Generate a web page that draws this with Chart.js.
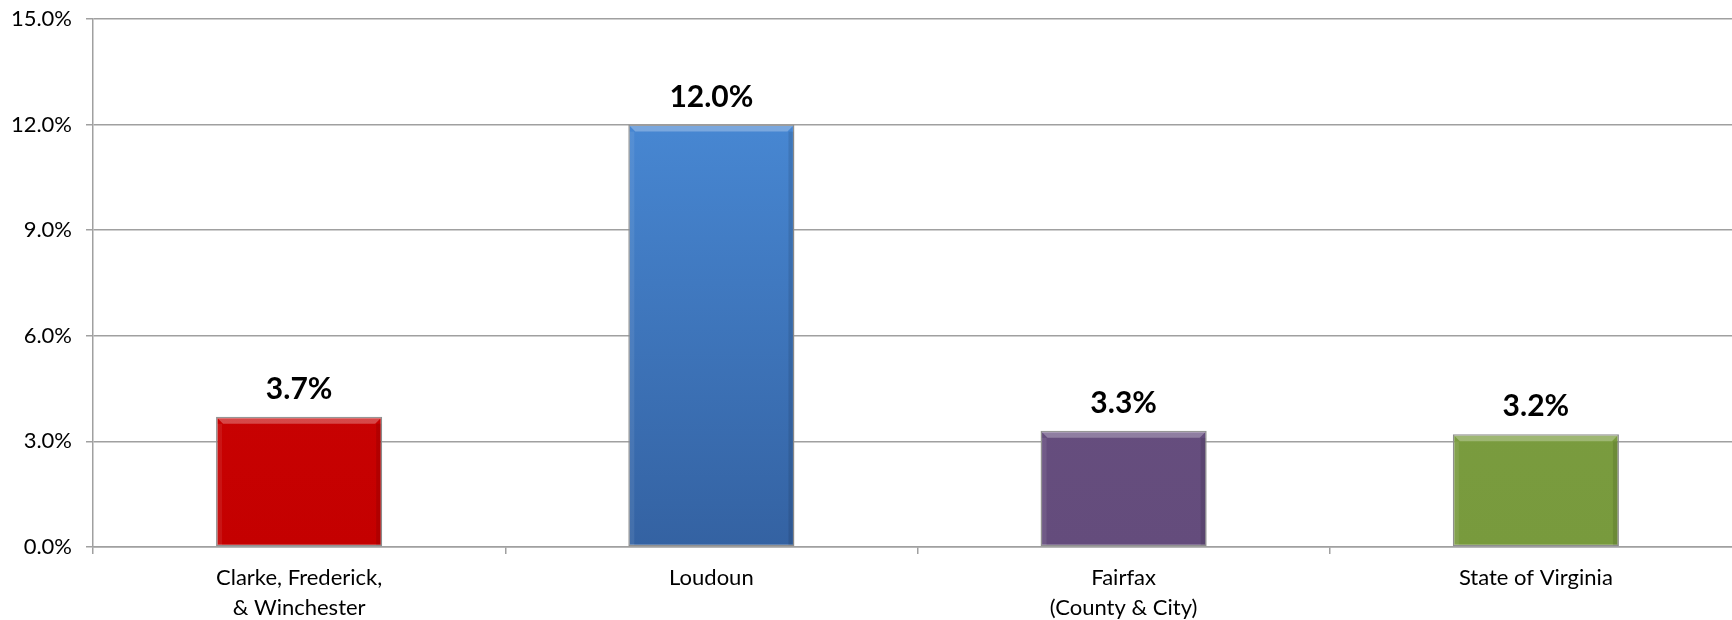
<!DOCTYPE html>
<html>
<head>
<meta charset="utf-8">
<script src="https://cdn.jsdelivr.net/npm/chart.js@4"></script>
<style>
html,body{margin:0;padding:0;background:#fff;overflow:hidden;}
#wrap{width:1742px;height:620px;position:relative;}
</style>
</head>
<body>
<div id="wrap"><canvas id="c"></canvas></div>
<script>
const categories = [["Clarke, Frederick,", "& Winchester"], "Loudoun", ["Fairfax", "(County & City)"], "State of Virginia"];
const values = [3.7, 12.0, 3.3, 3.2];
const yTicks = [0, 3, 6, 9, 12, 15];
const topColors = ["#D20606", "#4C90DE", "#6B5284", "#7FA043"];
const bottomColors = ["#C40000", "#3462A2", "#644C7C", "#789A3D"];

function barFill(ctx) {
  const chart = ctx.chart;
  const area = chart.chartArea;
  if (!area) return topColors[ctx.dataIndex];
  const el = ctx.element;
  const yTop = el && el.y != null && isFinite(el.y) ? el.y : area.top;
  const yBot = el && el.base != null && isFinite(el.base) ? el.base : area.bottom;
  const g = chart.ctx.createLinearGradient(0, yTop, 0, Math.max(yBot, yTop + 1));
  g.addColorStop(0, topColors[ctx.dataIndex]);
  g.addColorStop(1, bottomColors[ctx.dataIndex]);
  return g;
}

const bevel = {
  id: 'bevel',
  afterDatasetsDraw(chart) {
    const c = chart.ctx;
    const meta = chart.getDatasetMeta(0);
    meta.data.forEach((bar) => {
      const w = bar.width, l = bar.x - w / 2, r = bar.x + w / 2, t = bar.y;
      c.save();
      c.fillStyle = 'rgba(255,255,255,0.28)';
      c.beginPath();
      c.moveTo(l + 1, t + 1); c.lineTo(r - 1, t + 1); c.lineTo(r - 7, t + 7); c.lineTo(l + 7, t + 7); c.closePath();
      c.fill();
      c.fillStyle = 'rgba(0,0,0,0.10)';
      c.fillRect(r - 6, t + 7, 5, bar.base - t - 8);
      c.fillStyle = 'rgba(255,255,255,0.08)';
      c.fillRect(l + 1, t + 7, 5, bar.base - t - 8);
      c.restore();
    });
  }
};

const dataLabels = {
  id: 'dataLabels',
  afterDatasetsDraw(chart) {
    const c = chart.ctx;
    const meta = chart.getDatasetMeta(0);
    c.save();
    c.font = 'bold 30px Lato';
    c.fillStyle = '#000';
    c.textAlign = 'center';
    c.textBaseline = 'alphabetic';
    meta.data.forEach((bar, i) => {
      c.fillText(values[i].toFixed(1) + '%', bar.x, bar.y - 18);
    });
    c.restore();
  }
};

new Chart(document.getElementById('c'), {
  type: 'bar',
  data: {
    labels: categories,
    datasets: [{
      data: values,
      backgroundColor: barFill,
      borderColor: '#8E8E8E',
      borderWidth: 1.5,
      borderSkipped: false,
      categoryPercentage: 1.0,
      barPercentage: 0.403
    }]
  },
  options: {
    responsive: true,
    maintainAspectRatio: false,
    animation: false,
    devicePixelRatio: 1,
    layout: { padding: { top: 19, right: 0, left: 0, bottom: 0 } },
    plugins: { legend: { display: false }, tooltip: { enabled: false } },
    scales: {
      x: {
        grid: { display: true, drawOnChartArea: false, offset: true, color: '#A0A0A0', lineWidth: 1.5, tickLength: 7 },
        border: { display: true, color: '#A0A0A0', width: 1.5 },
        ticks: { color: '#000', font: { family: 'Lato', size: 22, lineHeight: 1.36 }, padding: 9, maxRotation: 0, autoSkip: false },
        afterFit(s) { s.height = 73; s.paddingLeft = 0; s.paddingRight = 0; }
      },
      y: {
        min: 0, max: 15,
        afterBuildTicks(s) { s.ticks = yTicks.map(v => ({ value: v })); },
        grid: { color: '#A0A0A0', lineWidth: 1.5, tickLength: 7 },
        border: { display: true, color: '#A0A0A0', width: 1.5 },
        ticks: { color: '#000', font: { family: 'Lato', size: 22 }, padding: 14, callback: v => v.toFixed(1) + '%' },
        afterFit(s) { s.width = 93; s.paddingTop = 0; s.paddingBottom = 0; }
      }
    }
  },
  plugins: [bevel, dataLabels]
});
</script>
</body>
</html>
